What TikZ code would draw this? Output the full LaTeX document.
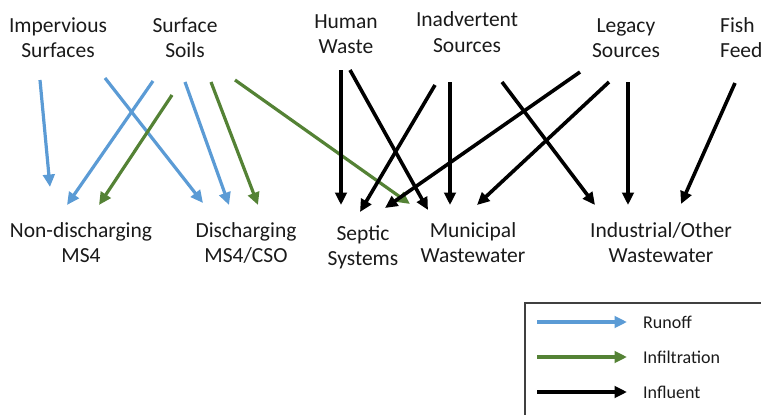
\documentclass[tikz,border=0pt]{standalone}
\usepackage{fontspec}
\setmainfont{Carlito}
\usetikzlibrary{arrows.meta}

\definecolor{runoffblue}{HTML}{5B9BD5}
\definecolor{infilgreen}{HTML}{548235}
\definecolor{labelgray}{HTML}{1A1A1A}

\tikzset{
  flow/.style={line width=3.2pt, -{Triangle[length=12.5pt,width=11.5pt]}},
  runoff/.style={flow, draw=runoffblue},
  infil/.style={flow, draw=infilgreen},
  influent/.style={flow, line width=3.6pt, draw=black},
  % anchor=base sits on the baseline of the last line
  label/.style={font=\fontsize{21.5}{25}\selectfont, text=labelgray,
                align=center, inner sep=0pt, anchor=base},
  keytext/.style={font=\fontsize{18}{21}\selectfont, text=labelgray,
                  inner sep=0pt, anchor=base west},
}

\begin{document}
\begin{tikzpicture}[x=1pt, y=-1pt]
  \useasboundingbox (0,0) rectangle (761,415);
  \clip (0,0) rectangle (761,415);

  % sources
  \node[label] (imp)    at (58,57)  {Impervious\\Surfaces};
  \node[label] (soil)   at (185,57) {Surface\\Soils};
  \node[label] (human)  at (346,53) {Human\\Waste};
  \node[label] (inad)   at (467,52) {Inadvertent\\Sources};
  \node[label] (legacy) at (626,57) {Legacy\\Sources};
  \node[label, align=left, anchor=base west] (fish) at (720,57) {Fish\\Feed};

  % receiving systems
  \node[label] (nonms4) at (81,262)  {Non-discharging\\MS4};
  \node[label] (disms4) at (246,262) {Discharging\\MS4/CSO};
  \node[label] (septic) at (363,265) {Septic\\Systems};
  \node[label] (muni)   at (473,262) {Municipal\\Wastewater};
  \node[label] (indus)  at (661,262) {Industrial/Other\\Wastewater};

  % arrow tails below each source
  \coordinate (imp-a)    at (40,80);
  \coordinate (imp-b)    at (105,78);
  \coordinate (soil-a)   at (153,81);
  \coordinate (soil-b)   at (172,95);
  \coordinate (soil-c)   at (185,82);
  \coordinate (soil-d)   at (211,82);
  \coordinate (soil-e)   at (235,80);
  \coordinate (human-a)  at (341,70);
  \coordinate (human-b)  at (350,70);
  \coordinate (inad-a)   at (435,85);
  \coordinate (inad-b)   at (450,82);
  \coordinate (inad-c)   at (502,82);
  \coordinate (legacy-a) at (580,72);
  \coordinate (legacy-b) at (609,82);
  \coordinate (legacy-c) at (628,82);
  \coordinate (fish-a)   at (735,83);

  % arrow tips above each receiving system
  \coordinate (nonms4-a) at (50,187);
  \coordinate (nonms4-b) at (67,205);
  \coordinate (nonms4-c) at (99,205);
  \coordinate (disms4-a) at (203,203);
  \coordinate (disms4-b) at (229,205);
  \coordinate (disms4-c) at (258,205);
  \coordinate (septic-a) at (341,205);
  \coordinate (septic-b) at (360,212);
  \coordinate (septic-c) at (385,208);
  \coordinate (muni-a)   at (410,204);
  \coordinate (muni-b)   at (428,210);
  \coordinate (muni-c)   at (450,205);
  \coordinate (muni-d)   at (477,205);
  \coordinate (indus-a)  at (595,205);
  \coordinate (indus-b)  at (628,205);
  \coordinate (indus-c)  at (681,204);

  % runoff
  \draw[runoff] (imp-a)  -- (nonms4-a);
  \draw[runoff] (imp-b)  -- (disms4-a);
  \draw[runoff] (soil-a) -- (nonms4-b);
  \draw[runoff] (soil-c) -- (disms4-b);

  % infiltration
  \draw[infil] (soil-b) -- (nonms4-c);
  \draw[infil] (soil-d) -- (disms4-c);
  \draw[infil] (soil-e) -- (muni-a);

  % influent
  \draw[influent] (human-a)  -- (septic-a);
  \draw[influent] (human-b)  -- (muni-b);
  \draw[influent] (inad-a)   -- (septic-b);
  \draw[influent] (inad-b)   -- (muni-c);
  \draw[influent] (inad-c)   -- (indus-a);
  \draw[influent] (legacy-a) -- (septic-c);
  \draw[influent] (legacy-b) -- (muni-d);
  \draw[influent] (legacy-c) -- (indus-b);
  \draw[influent] (fish-a)   -- (indus-c);

  % legend
  \draw[line width=1.1pt, draw=black!75] (525,303) rectangle (775,430);
  \coordinate (key1-l) at (537,322); \coordinate (key1-r) at (627,322);
  \coordinate (key2-l) at (537,357); \coordinate (key2-r) at (627,357);
  \coordinate (key3-l) at (537,392); \coordinate (key3-r) at (627,392);
  \draw[runoff]   (key1-l) -- (key1-r);
  \draw[infil]    (key2-l) -- (key2-r);
  \draw[influent] (key3-l) -- (key3-r);
  \node[keytext] (key1) at (643,328) {Runoff};
  \node[keytext] (key2) at (643,363) {Infiltration};
  \node[keytext] (key3) at (643,398) {Influent};
\end{tikzpicture}
\end{document}
